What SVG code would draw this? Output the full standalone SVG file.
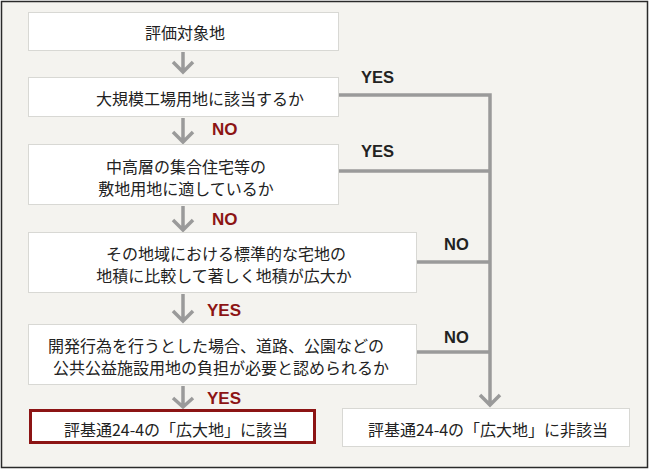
<svg xmlns="http://www.w3.org/2000/svg" width="650" height="469" viewBox="0 0 650 469">
<defs>
<style>
.box{fill:#fff;stroke:#d8d8d4;stroke-width:1}
.hl{fill:#fff;stroke:#8c1414;stroke-width:3}
.t{font-family:"Noto Sans CJK JP","Noto Sans",sans-serif;font-size:16px;fill:#222;text-anchor:middle;dominant-baseline:central}
.ln{fill:none;stroke:#9a9a9a;stroke-width:3.5}
.lbl{font-family:"Liberation Sans","Noto Sans",sans-serif;font-size:17px;font-weight:bold;fill:#8c1414;dominant-baseline:central}
.lbr{font-family:"Liberation Sans","Noto Sans",sans-serif;font-size:16.5px;font-weight:bold;fill:#222;dominant-baseline:central}
</style>
</defs>
<rect x="1.5" y="1.5" width="646" height="466" fill="#f4f3ef" stroke="#2a2a2a" stroke-width="1.5"/>
<g id="connectors">
<path class="ln" d="M183 52V72M173 62L183 72L193 62"/>
<path class="ln" d="M183 118V142M173 132L183 142L193 132"/>
<path class="ln" d="M183 206V230M173 220L183 230L193 220"/>
<path class="ln" d="M183 294V321M173 311L183 321L193 311"/>
<path class="ln" d="M183 386V407M173 398L183 407L193 398"/>
<path class="ln" d="M338 95H490V404M416 262H490M338 171H490M416 352H490M480 395L490 405L500 395"/>
<text class="lbl" x="212" y="129">NO</text>
<text class="lbl" x="212" y="219">NO</text>
<text class="lbl" x="207" y="310">YES</text>
<text class="lbl" x="207" y="398">YES</text>
<text class="lbr" x="361" y="77">YES</text>
<text class="lbr" x="361" y="151">YES</text>
<text class="lbr" x="444" y="244">NO</text>
<text class="lbr" x="444" y="337">NO</text>
</g>
<g id="n1"><rect class="box" x="28.5" y="12.5" width="310" height="38"/><text class="t" x="185" y="32">評価対象地</text></g>
<g id="n2"><rect class="box" x="28.5" y="77.5" width="310" height="39"/><text class="t" x="200" y="98">大規模工場用地に該当するか</text></g>
<g id="n3"><rect class="box" x="28.5" y="144.5" width="310" height="60"/><text class="t" x="186" y="166">中高層の集合住宅等の</text><text class="t" x="186" y="188">敷地用地に適しているか</text></g>
<g id="n4"><rect class="box" x="28.5" y="232.5" width="388" height="60"/><text class="t" x="226" y="253">その地域における標準的な宅地の</text><text class="t" x="224" y="275">地積に比較して著しく地積が広大か</text></g>
<g id="n5"><rect class="box" x="28.5" y="324.5" width="388" height="60"/><text class="t" x="216" y="345">開発行為を行うとした場合、道路、公園などの</text><text class="t" x="221" y="367">公共公益施設用地の負担が必要と認められるか</text></g>
<g id="n6"><rect class="hl" x="30.5" y="410.5" width="284" height="32"/><text class="t" x="176" y="429">評基通24-4の「広大地」に該当</text></g>
<g id="n7"><rect class="box" x="342.5" y="408.5" width="287" height="38"/><text class="t" x="488" y="429">評基通24-4の「広大地」に非該当</text></g>
</svg>
